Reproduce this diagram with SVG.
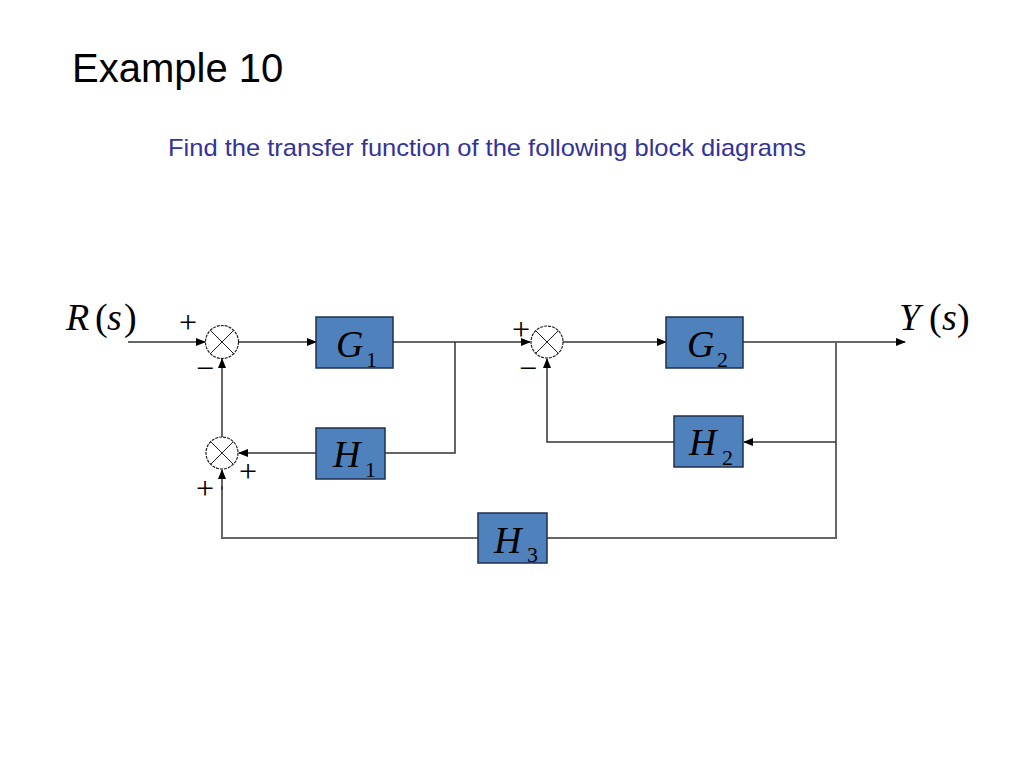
<svg xmlns="http://www.w3.org/2000/svg" width="1024" height="768" viewBox="0 0 1024 768">
<style>
.blk{fill:#4F81BD;stroke:#1F2F4F;stroke-width:1.5}
.ln{fill:none;stroke:#333;stroke-width:1.5}
.ln2{fill:none;stroke:#666;stroke-width:2}
.sum{fill:#fff;stroke:#222;stroke-width:1.2;stroke-dasharray:3 1}
.x{stroke:#222;stroke-width:1}
.m{font-family:"Liberation Serif","Times New Roman",serif;font-style:italic;font-size:38px;fill:#000}
.sub{font-family:"Liberation Serif","Times New Roman",serif;font-size:22px;fill:#000}
.sg{font-family:"Liberation Serif","Times New Roman",serif;font-size:32px;fill:#000}
.up{font-family:"Liberation Serif","Times New Roman",serif;font-size:38px;fill:#000}
</style>
<defs>
<marker id="ah" markerWidth="10" markerHeight="8" refX="9" refY="4" orient="auto" markerUnits="userSpaceOnUse">
<path d="M0,0 L10,4 L0,8 Z" fill="#000"/>
</marker>
</defs>
<rect width="1024" height="768" fill="#fff"/>
<text x="72" y="82" font-family="Liberation Sans, Arial, sans-serif" font-size="40" fill="#000">Example 10</text>
<text x="168" y="156" font-family="Liberation Sans, Arial, sans-serif" font-size="24" fill="#333399" textLength="638" lengthAdjust="spacingAndGlyphs">Find the transfer function of the following block diagrams</text>

<g id="connectors">
<path class="ln" d="M128,342 H205" marker-end="url(#ah)"/>
<path class="ln" d="M239,342 H316" marker-end="url(#ah)"/>
<path class="ln" d="M393,342 H530" marker-end="url(#ah)"/>
<path class="ln" d="M455,342 V453 H385"/>
<path class="ln" d="M316,453 H239" marker-end="url(#ah)"/>
<path class="ln" d="M222,437 V359" marker-end="url(#ah)"/>
<path class="ln" d="M563,342 H666" marker-end="url(#ah)"/>
<path class="ln" d="M743,342 H905" marker-end="url(#ah)"/>
<path class="ln2" d="M836,343 V538 H547"/>
<path class="ln" d="M836,442 H744" marker-end="url(#ah)"/>
<path class="ln" d="M674,442 H547 V359" marker-end="url(#ah)"/>
<path class="ln2" d="M478,538 H222 V486"/>
<path class="ln" d="M222,490 V470" marker-end="url(#ah)"/>
</g>

<g id="input-label"><text class="m" x="66" y="330">R</text><text class="up" x="95" y="330">(</text><text class="m" x="107" y="330">s</text><text class="up" x="124" y="330">)</text></g>
<g id="output-label"><text class="m" x="899" y="330">Y</text><text class="up" x="929" y="330">(</text><text class="m" x="942" y="330">s</text><text class="up" x="957" y="330">)</text></g>

<g id="sum1">
<circle class="sum" cx="222" cy="342" r="16.5"/>
<line class="x" x1="210.3" y1="330.3" x2="233.7" y2="353.7"/><line class="x" x1="233.7" y1="330.3" x2="210.3" y2="353.7"/>
<text class="sg" x="179" y="333">+</text><text class="sg" x="196" y="379">−</text>
</g>
<g id="sum2">
<circle class="sum" cx="547" cy="342" r="16"/>
<line class="x" x1="535.7" y1="330.7" x2="558.3" y2="353.3"/><line class="x" x1="558.3" y1="330.7" x2="535.7" y2="353.3"/>
<text class="sg" x="512" y="340">+</text><text class="sg" x="519" y="379">−</text>
</g>
<g id="sum3">
<circle class="sum" cx="222" cy="453" r="16"/>
<line class="x" x1="210.7" y1="441.7" x2="233.3" y2="464.3"/><line class="x" x1="233.3" y1="441.7" x2="210.7" y2="464.3"/>
<text class="sg" x="239" y="482">+</text><text class="sg" x="196" y="499">+</text>
</g>

<g id="G1"><rect class="blk" x="316" y="317" width="77" height="51"/><text class="m" x="336" y="357">G</text><text class="sub" x="366" y="367">1</text></g>
<g id="G2"><rect class="blk" x="666" y="317" width="77" height="51"/><text class="m" x="687" y="357">G</text><text class="sub" x="717" y="367">2</text></g>
<g id="H1"><rect class="blk" x="316" y="428" width="69" height="51"/><text class="m" x="333" y="467">H</text><text class="sub" x="365" y="477">1</text></g>
<g id="H2"><rect class="blk" x="674" y="416" width="69" height="51"/><text class="m" x="689" y="455">H</text><text class="sub" x="722" y="465">2</text></g>
<g id="H3"><rect class="blk" x="478" y="513" width="69" height="50"/><text class="m" x="494" y="553">H</text><text class="sub" x="527" y="562">3</text></g>
</svg>
